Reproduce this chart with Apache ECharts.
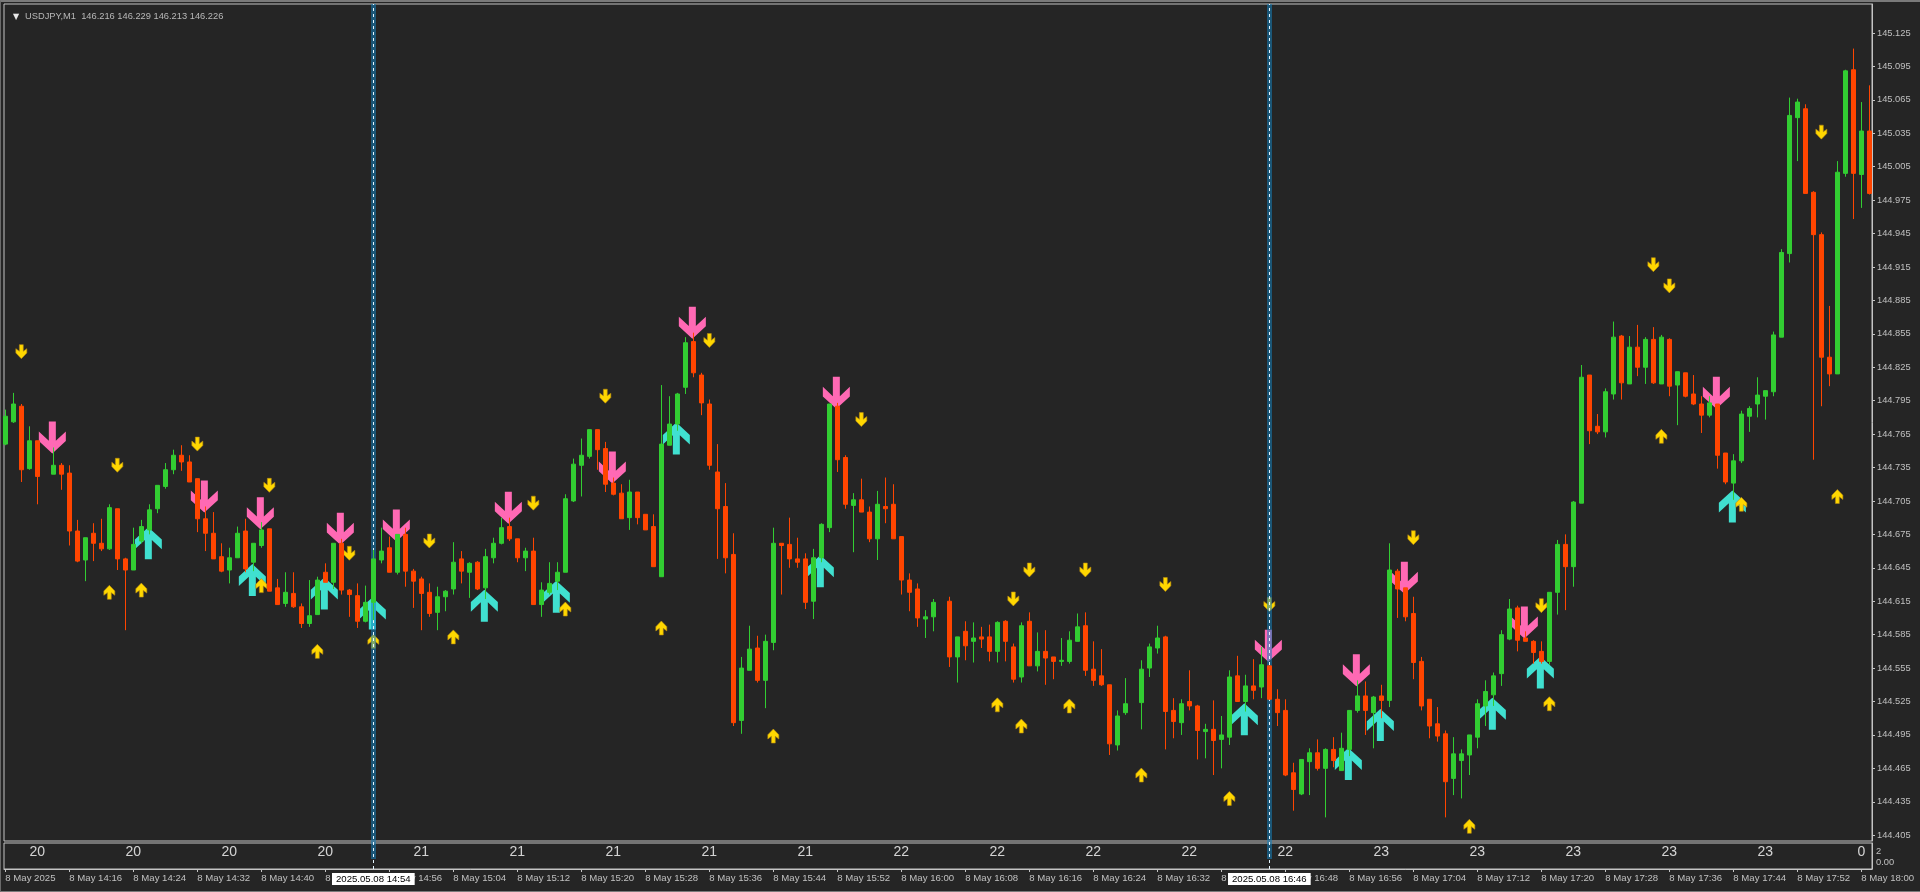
<!DOCTYPE html>
<html><head><meta charset="utf-8">
<style>html,body{margin:0;padding:0;background:#252525;overflow:hidden}
#c{width:1920px;height:892px}
#f{position:absolute;left:0;top:0;width:1920px;height:892px;box-sizing:border-box;border-top:2px solid #7a7a7a;border-left:1px solid #6a6a6a;border-bottom:1px solid #7a7a7a;pointer-events:none}</style>
<script src="https://cdn.jsdelivr.net/npm/echarts@6/dist/echarts.min.js"></script>
</head><body><div id="c"></div><div id="f"></div>
<script>
const open=[
144.756,144.776,144.790,144.734,144.759,null,144.729,144.737,144.730,144.678,
144.652,144.676,144.667,144.662,144.698,144.653,144.643,144.669,144.679,144.698,
144.718,144.733,144.746,144.740,144.725,144.689,144.676,144.655,144.643,144.654,
144.678,144.650,144.665,144.680,144.627,144.613,144.622,144.610,144.595,144.603,
144.641,144.632,144.667,144.625,144.620,144.597,144.614,144.652,144.663,144.641,
144.675,144.642,144.635,144.623,144.605,144.619,144.626,144.653,144.641,144.650,
144.627,144.654,144.667,144.682,144.671,144.654,144.660,144.612,144.623,144.633,
144.641,144.705,144.737,144.745,144.769,144.752,144.721,144.712,144.690,144.713,
144.693,144.682,144.637,144.755,144.774,144.807,144.848,144.818,144.792,144.731,
144.700,144.657,144.508,144.553,144.573,144.544,144.578,144.667,144.666,144.653,
144.653,144.615,144.654,144.681,144.790,144.744,144.701,144.706,144.695,144.671,
144.700,144.702,144.673,144.634,144.626,144.599,144.601,null,144.615,144.565,
144.588,144.579,144.583,144.583,144.570,144.597,144.574,144.547,144.597,144.557,
144.570,144.565,144.561,144.561,144.579,144.593,144.554,144.548,144.540,144.486,
144.515,null,144.524,144.555,144.573,144.583,144.517,144.506,144.525,144.521,
144.498,144.500,144.491,144.493,144.548,144.525,144.539,144.538,144.557,144.527,
144.517,144.461,144.442,144.471,144.479,144.465,144.482,144.463,144.482,144.517,
144.530,144.515,144.530,144.526,144.642,144.627,144.604,144.561,144.527,144.505,
144.496,144.456,144.472,144.477,144.493,144.521,144.531,144.550,144.581,144.609,
144.582,144.579,144.570,144.561,144.623,144.666,144.646,144.703,144.818,144.772,
144.767,144.801,144.853,144.810,144.843,144.825,144.850,144.810,144.850,144.809,
144.820,144.801,144.792,144.782,144.792,144.748,144.721,144.741,144.781,144.792,
144.799,144.803,144.852,144.927,145.049,145.057,144.982,144.944,144.834,144.819,
144.999,145.092,144.998,145.037];
const close=[
144.781,144.792,144.733,144.759,144.727,null,144.737,144.729,144.678,144.651,
144.672,144.667,144.662,144.699,144.653,144.643,144.666,144.682,144.697,144.719,
144.733,144.746,144.740,144.722,144.689,144.676,144.653,144.642,144.654,144.676,
144.644,144.667,144.679,144.624,144.612,144.623,144.610,144.595,144.602,144.634,
144.632,144.667,144.625,144.621,144.597,144.614,144.653,144.660,144.641,144.675,
144.642,144.633,144.622,144.604,144.619,144.624,144.650,144.642,144.649,144.626,
144.655,144.667,144.681,144.671,144.654,144.660,144.612,144.625,144.631,144.641,
144.707,144.738,144.746,144.769,144.751,144.720,144.711,144.689,144.713,144.690,
144.679,144.646,144.756,144.774,144.801,144.847,144.820,144.793,144.737,144.698,
144.654,144.506,144.555,144.572,144.544,144.579,144.667,144.665,144.653,144.650,
144.614,144.654,144.684,144.792,144.742,144.702,144.706,144.695,144.671,144.702,
144.698,144.671,144.634,144.623,144.600,144.601,144.614,null,144.565,144.583,
144.575,144.582,144.581,144.570,144.596,144.579,144.545,144.593,144.557,144.570,
144.564,144.561,144.562,144.580,144.592,144.553,144.544,144.540,144.487,144.512,
144.523,null,144.554,144.574,144.582,144.516,144.507,144.523,144.521,144.499,
144.500,144.490,144.495,144.547,144.525,144.539,144.535,144.558,144.527,144.515,
144.459,144.446,144.473,144.479,144.465,144.482,144.472,144.483,144.517,144.530,
144.517,144.529,144.526,144.643,144.626,144.601,144.560,144.521,144.503,144.494,
144.453,144.478,144.478,144.495,144.523,144.534,144.548,144.585,144.608,144.580,
144.579,144.569,144.561,144.623,144.666,144.646,144.704,144.816,144.768,144.767,
144.803,144.852,144.811,144.843,144.825,144.850,144.811,144.852,144.808,144.821,
144.799,144.792,144.782,144.793,144.746,144.722,144.741,144.783,144.788,144.800,
144.804,144.854,144.928,145.051,145.063,144.981,144.944,144.834,144.819,145.000,
145.091,144.999,145.037,144.981];
const high=[
144.787,144.802,144.792,144.772,144.759,null,144.753,144.739,144.737,144.688,
144.672,144.685,144.689,144.702,144.698,144.654,144.681,144.688,144.702,144.719,
144.739,144.751,144.755,144.746,144.725,144.700,144.695,144.667,144.663,144.682,
144.689,144.667,144.686,144.680,144.635,144.641,144.641,144.613,144.634,144.637,
144.649,144.667,144.671,144.626,144.631,144.629,144.661,144.681,144.673,144.675,
144.681,144.644,144.637,144.631,144.628,144.625,144.668,144.660,144.650,144.651,
144.662,144.672,144.690,144.690,144.671,144.663,144.672,144.632,144.650,144.650,
144.711,144.743,144.761,144.769,144.769,144.758,144.726,144.720,144.724,144.713,
144.693,144.693,144.809,144.799,144.802,144.852,144.856,144.820,144.796,144.756,
144.721,144.676,144.565,144.593,144.584,144.585,144.681,144.667,144.690,144.672,
144.658,144.662,144.685,144.792,144.793,144.746,144.712,144.725,144.700,144.714,
144.726,144.720,144.673,144.640,144.631,144.607,144.617,null,144.619,144.583,
144.597,144.596,144.592,144.594,144.597,144.598,144.577,144.596,144.605,144.587,
144.589,144.565,144.582,144.588,144.604,144.605,144.579,144.572,144.540,144.517,
144.546,null,144.562,144.577,144.593,144.584,144.528,144.527,144.553,144.522,
144.505,144.526,144.512,144.553,144.566,144.549,144.563,144.574,144.557,144.536,
144.527,144.470,144.473,144.483,144.491,144.483,144.493,144.497,144.517,144.544,
144.543,144.530,144.540,144.667,144.644,144.627,144.619,144.565,144.527,144.520,
144.499,144.493,144.482,144.495,144.527,144.544,144.551,144.589,144.617,144.611,
144.588,144.580,144.579,144.623,144.670,144.675,144.705,144.827,144.818,144.783,
144.806,144.866,144.854,144.853,144.863,144.852,144.861,144.854,144.851,144.821,
144.820,144.818,144.799,144.799,144.792,144.748,144.747,144.786,144.790,144.816,
144.804,144.857,144.931,145.067,145.066,145.061,144.983,144.946,144.880,145.010,
145.092,145.111,145.063,145.078];
const low=[
144.755,144.775,144.722,144.733,144.702,null,144.729,144.715,144.665,144.650,
144.633,144.651,144.660,144.661,144.643,144.589,144.643,144.667,144.675,144.694,
144.716,144.729,144.732,144.722,144.677,144.660,144.653,144.641,144.631,144.654,
144.641,144.642,144.663,144.624,144.612,144.610,144.609,144.591,144.592,144.603,
144.632,144.626,144.621,144.601,144.591,144.596,144.598,144.649,144.641,144.639,
144.628,144.609,144.589,144.601,144.589,144.606,144.621,144.631,144.618,144.625,
144.617,144.649,144.666,144.669,144.650,144.642,144.612,144.601,144.621,144.625,
144.641,144.704,144.709,144.743,144.733,144.713,144.710,144.689,144.679,144.684,
144.679,144.646,144.637,144.755,144.768,144.801,144.816,144.782,144.733,144.653,
144.640,144.503,144.496,144.553,144.542,144.519,144.571,144.621,144.645,144.645,
144.608,144.599,144.650,144.677,144.731,144.698,144.659,144.695,144.668,144.652,
144.685,144.671,144.621,144.606,144.592,144.582,144.588,null,144.556,144.542,
144.562,144.560,144.573,144.561,144.560,144.561,144.542,144.542,144.557,144.552,
144.540,144.545,144.557,144.559,144.579,144.548,144.539,144.539,144.477,144.481,
144.513,null,144.500,144.547,144.568,144.482,144.492,144.495,144.517,144.473,
144.474,144.459,144.465,144.486,144.525,144.516,144.527,144.528,144.527,144.503,
144.458,144.427,144.441,144.441,144.463,144.421,144.466,144.463,144.476,144.515,
144.495,144.483,144.510,144.520,144.600,144.597,144.545,144.517,144.492,144.489,
144.421,144.441,144.438,144.459,144.483,144.503,144.521,144.539,144.580,144.570,
144.579,144.559,144.559,144.558,144.603,144.607,144.628,144.703,144.756,144.765,
144.762,144.796,144.796,144.810,144.817,144.810,144.810,144.810,144.799,144.773,
144.798,144.791,144.766,144.780,144.734,144.720,144.706,144.739,144.767,144.780,
144.778,144.799,144.852,144.919,145.010,144.981,144.742,144.790,144.808,144.819,
144.996,144.958,144.968,144.980];

const pinkIdx=[6,25,32,42,49,63,76,86,104,158,169,175,190,214];
const pinkPrice=[144.762,144.709,144.694,144.680,144.683,144.699,144.735,144.865,144.802,144.575,144.553,144.636,144.596,144.802];
const cyanIdx=[18,31,40,46,60,69,84,102,155,168,172,186,192,216];
const cyanPrice=[144.667,144.634,144.622,144.604,144.611,144.619,144.761,144.642,144.509,144.469,144.504,144.514,144.551,144.700];
const downIdx=[2,14,24,33,43,53,66,75,88,107,126,128,135,145,158,176,192,206,208,227];
const downPrice=[144.839,144.737,144.756,144.719,144.658,144.669,144.703,144.799,144.849,144.778,144.617,144.643,144.643,144.630,144.612,144.672,144.611,144.917,144.898,145.036];
const upIdx=[13,17,32,39,46,56,70,82,96,124,127,133,142,153,183,193,207,217,229];
const upPrice=[144.623,144.625,144.629,144.570,144.579,144.583,144.608,144.591,144.494,144.522,144.503,144.521,144.459,144.438,144.413,144.523,144.763,144.702,144.709];

const priceTicks=[145.125,145.095,145.065,145.035,145.005,144.975,144.945,144.915,144.885,144.855,144.825,144.795,144.765,144.735,144.705,144.675,144.645,144.615,144.585,144.555,144.525,144.495,144.465,144.435,144.405];
const timeLabels=["8 May 2025","8 May 14:16","8 May 14:24","8 May 14:32","8 May 14:40","8 May 14:48","8 May 14:56","8 May 15:04","8 May 15:12","8 May 15:20","8 May 15:28","8 May 15:36","8 May 15:44","8 May 15:52","8 May 16:00","8 May 16:08","8 May 16:16","8 May 16:24","8 May 16:32","8 May 16:40","8 May 16:48","8 May 16:56","8 May 17:04","8 May 17:12","8 May 17:20","8 May 17:28","8 May 17:36","8 May 17:44","8 May 17:52","8 May 18:00"];
const subValues=[20,20,20,20,21,21,21,21,21,22,22,22,22,22,23,23,23,23,23,0];
const vlineIdx=[46,158];
const vlineLabels=["2025.05.08 14:54","2025.05.08 16:46"];
const headerText="USDJPY,M1  146.216 146.229 146.213 146.226";

const BG='#252525',FG='#c0c0c0',LINE='#c4c4c4',GREEN='#32CD32',RED='#FF4500';
const FONT='"Liberation Sans",Arial,sans-serif';
const xMin=-0.166,xMax=233.33;
const bigDown='path://M30 0L51 0L51 58L81 30L81 59L40.5 96L0 59L0 30L30 58Z';
const bigUp='path://M30 96L51 96L51 38L81 66L81 37L40.5 0L0 37L0 66L30 38Z';
const smallDown='path://M11 0L23 0L23 20L34 12L34 25L17 42L0 25L0 12L11 20Z';
const smallUp='path://M11 42L23 42L23 22L34 30L34 17L17 0L0 17L0 30L11 22Z';

const candles=[];
open.forEach((o,i)=>{if(o!==null)candles.push([i,o,close[i],low[i],high[i]]);});
const zip=(a,b)=>a.map((v,i)=>[v,b[i]]);
const tickPos=timeLabels.map((_,k)=>k*8);

function marker(name,ix,px,sym,size,color,z,off,border){
  return {type:'scatter',name,xAxisIndex:0,yAxisIndex:0,data:zip(ix,px),symbol:sym,symbolSize:size,symbolOffset:off,z,silent:true,
    itemStyle:{color,opacity:1,borderColor:border||color,borderWidth:border?0.6:0}};
}
function hiddenX(g){return {type:'value',gridIndex:g,min:xMin,max:xMax,show:false};}
function hiddenY(g){return {type:'value',gridIndex:g,min:0,max:1,show:false};}

const option={
  backgroundColor:BG,animation:false,
  title:[
    {text:'▼',left:8,top:8,textStyle:{color:'#e8e8e8',fontSize:8,fontWeight:'normal',fontFamily:'"DejaVu Sans"'}},
    {text:headerText,left:20,top:7,textStyle:{color:'#b8b8b8',fontSize:9.3,fontWeight:'normal',fontFamily:FONT}}
  ],
  grid:[
    {left:4,top:4,width:1868,height:837,show:true,borderColor:LINE,borderWidth:1,backgroundColor:'transparent'},
    {left:4,top:843,width:1868,height:26,show:true,borderColor:LINE,borderWidth:1,backgroundColor:'transparent'},
    {left:4,top:4,width:1868,height:855},
    {left:4,top:4,width:1868,height:865}
  ],
  xAxis:[
    hiddenX(0),
    {type:'value',gridIndex:1,min:xMin,max:xMax,position:'bottom',splitLine:{show:false},
     axisLine:{show:true,onZero:false,lineStyle:{color:LINE}},
     axisTick:{show:true,length:3,inside:false,customValues:tickPos,lineStyle:{color:LINE}},
     axisLabel:{show:true,customValues:tickPos,align:'left',margin:4,color:FG,fontSize:9.6,fontFamily:FONT,
       formatter:v=>timeLabels[Math.round(v/8)]}},
    hiddenX(2),hiddenX(3)
  ],
  yAxis:[
    {type:'value',gridIndex:0,position:'right',min:144.3998,max:145.151,splitLine:{show:false},scale:true,
     axisLine:{show:true,onZero:false,lineStyle:{color:LINE}},
     axisTick:{show:true,length:3,customValues:priceTicks,lineStyle:{color:LINE}},
     axisLabel:{show:true,customValues:priceTicks,margin:5,color:FG,fontSize:9.3,fontFamily:FONT,align:'left',
       formatter:v=>v.toFixed(3)}},
    {type:'value',gridIndex:1,position:'right',min:-1.36,max:3.69,splitLine:{show:false},
     axisLine:{show:true,onZero:false,lineStyle:{color:LINE}},
     axisTick:{show:false},
     axisLabel:{show:true,customValues:[2,0,-0.3],margin:4,color:FG,fontSize:9.3,fontFamily:FONT,align:'left',
       formatter:v=>v===2?'2':(v===0?'0.00':'   1')}},
    hiddenY(2),hiddenY(3)
  ],
  series:[
    marker('signal sell',pinkIdx,pinkPrice,bigDown,[27,32],'#FF69B4',2,[-1,0]),
    marker('signal buy',cyanIdx,cyanPrice,bigUp,[27,32],'#40E0D0',2,[-1,0]),
    marker('fractal down',downIdx,downPrice,smallDown,[11,14],'#FFD700',3,[0,0],'#b88a10'),
    marker('fractal up',upIdx,upPrice,smallUp,[11,14],'#FFD700',3,[0,0],'#b88a10'),
    {type:'candlestick',name:'USDJPY,M1',xAxisIndex:0,yAxisIndex:0,data:candles,barWidth:5,z:5,silent:true,clip:true,
     itemStyle:{color:GREEN,color0:RED,borderColor:GREEN,borderColor0:RED,borderWidth:1}},
    {type:'scatter',name:'sub',xAxisIndex:1,yAxisIndex:1,z:5,silent:true,symbolSize:0,
     data:subValues.map((v,k)=>[4+12*k,2,v]),
     label:{show:true,position:'inside',formatter:p=>String(p.value[2]),color:'#ffffff',fontSize:14,fontFamily:'"Liberation Sans Narrow","Liberation Sans",sans-serif'}},
    {type:'line',name:'vband',xAxisIndex:2,yAxisIndex:2,data:[],z:8,silent:true,
     markLine:{silent:true,animation:false,symbol:'none',label:{show:false},
       lineStyle:{color:'rgba(20,130,190,0.55)',width:5,type:'solid'},
       data:vlineIdx.map(i=>({xAxis:i}))}},
    {type:'line',name:'vdash',xAxisIndex:3,yAxisIndex:3,data:[],z:9,silent:true,
     markLine:{silent:true,animation:false,symbol:'none',
       lineStyle:{color:'#e6f6ff',width:1,type:[3,3]},
       label:{show:true,position:'start',distance:4,color:'#000',backgroundColor:'#fff',fontSize:9.6,fontFamily:FONT,padding:[1,4,1,4],
         formatter:p=>vlineLabels[vlineIdx.indexOf(p.value)]},
       data:vlineIdx.map(i=>({xAxis:i}))}}
  ]
};
echarts.init(document.getElementById('c')).setOption(option);
</script></body></html>
